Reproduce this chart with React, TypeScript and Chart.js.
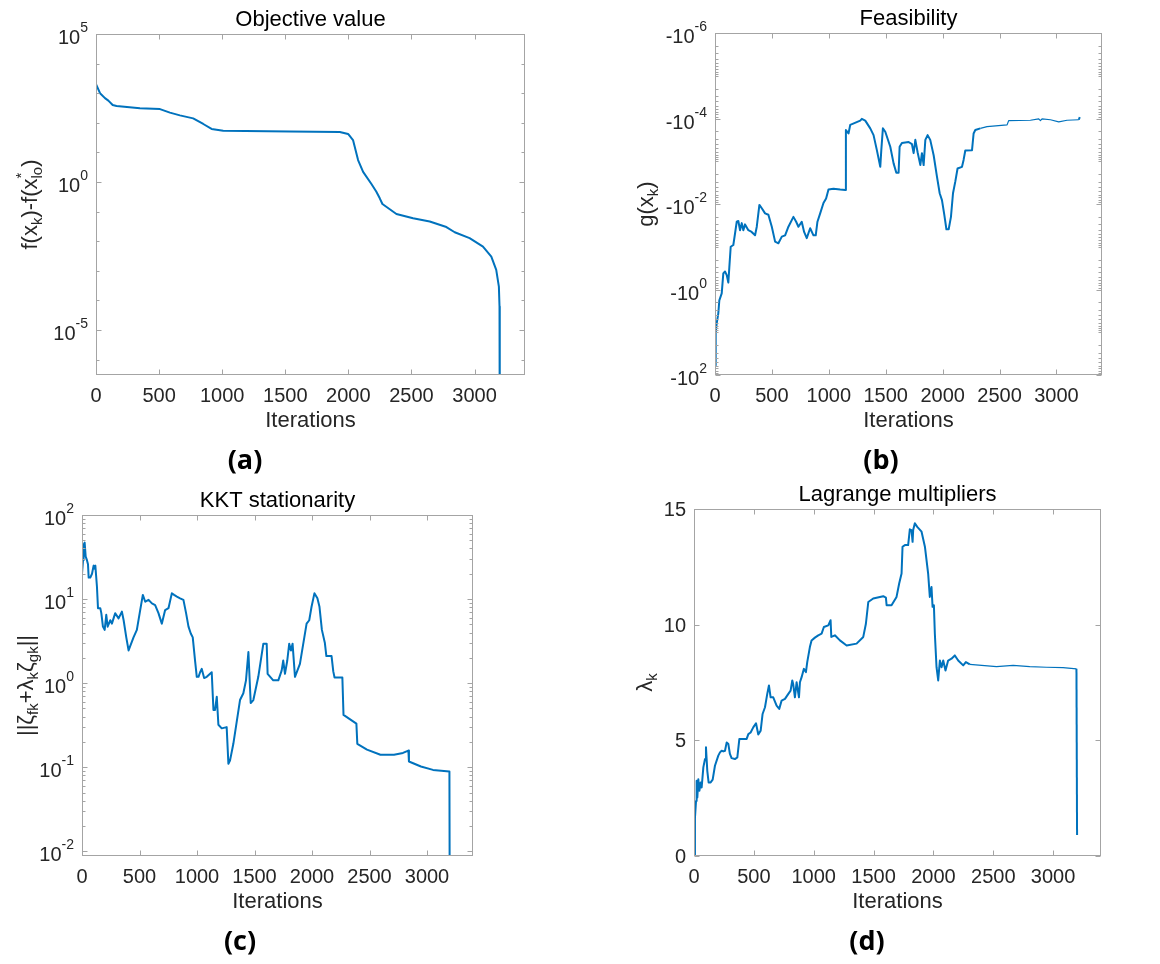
import React, { useEffect, useRef } from "react";
import { Chart, registerables } from "chart.js";

Chart.register(...registerables);

// ---------------- data ----------------
const xTickValues = [0, 500, 1000, 1500, 2000, 2500, 3000];

// (a) objective gap f(x_k) - f(x_lo*)
const aIter = [0, 32, 71, 98, 132, 163, 348, 507, 586, 665, 770, 850, 916, 1008, 1536, 1932, 1998, 2037, 2077, 2117, 2183, 2222, 2249, 2270, 2381, 2513, 2645, 2777, 2843, 2961, 3067, 3133, 3172, 3193, 3198, 3200];
const aValue = [2000, 1000, 680, 560, 400, 370, 310, 290, 220, 178, 141, 91, 62, 54, 51, 49, 42, 26, 5.5, 2.2, 0.85, 0.47, 0.28, 0.18, 0.083, 0.059, 0.046, 0.03, 0.02, 0.0126, 0.0065, 0.003, 0.00107, 0.00029, 0.000062, 1e-9];

// (b) feasibility g(x_k) (negative values)
const bIter = [0, 6, 15, 29, 38, 59, 73, 88, 103, 117, 126, 138, 161, 176, 191, 205, 220, 235, 249, 264, 293, 322, 352, 367, 390, 411, 440, 469, 499, 528, 557, 587, 616, 645, 689, 713, 733, 762, 783, 806, 836, 865, 885, 900, 924, 953, 976, 997, 1041, 1100, 1144, 1150, 1173, 1188, 1276, 1290, 1320, 1364, 1393, 1422, 1452, 1461, 1475, 1496, 1540, 1569, 1593, 1613, 1622, 1642, 1701, 1730, 1745, 1760, 1780, 1804, 1818, 1833, 1848, 1868, 1891, 1921, 1950, 1974, 1994, 2015, 2033, 2053, 2073, 2091, 2111, 2131, 2170, 2184, 2199, 2258, 2272, 2287, 2331, 2390, 2566, 2580, 2771, 2844, 2859, 2873, 2947, 3020, 3093, 3196, 3205];
const bValue = [-59, -10.5, -6.2, -3.6, -1.8, -1.23, -0.42, -0.38, -0.46, -0.69, -0.3, -0.1, -0.091, -0.049, -0.026, -0.025, -0.041, -0.028, -0.041, -0.03, -0.041, -0.045, -0.054, -0.034, -0.0105, -0.0126, -0.0166, -0.0178, -0.034, -0.076, -0.083, -0.058, -0.054, -0.034, -0.02, -0.026, -0.034, -0.026, -0.045, -0.063, -0.037, -0.054, -0.054, -0.026, -0.0166, -0.0095, -0.0074, -0.0046, -0.0044, -0.0046, -0.0047, -0.000186, -0.000224, -0.000141, -0.000112, -0.000102, -0.000112, -0.00017, -0.000245, -0.00055, -0.00135, -0.00055, -0.00017, -0.000204, -0.000457, -0.00112, -0.00186, -0.00186, -0.000457, -0.000372, -0.000355, -0.000398, -0.000646, -0.000316, -0.000617, -0.00123, -0.000646, -0.00123, -0.000316, -0.000245, -0.000316, -0.000724, -0.00229, -0.0056, -0.0081, -0.0182, -0.039, -0.039, -0.02, -0.0056, -0.003, -0.00148, -0.00135, -0.00093, -0.00056, -0.00055, -0.000224, -0.000186, -0.00017, -0.000155, -0.000141, -0.000112, -0.00011, -0.000102, -0.000112, -0.000102, -0.000107, -0.00012, -0.00011, -0.000107, -0.000093];

// (c) KKT stationarity
const cIter = [0, 9, 14, 23, 32, 43, 52, 58, 72, 87, 101, 110, 116, 130, 139, 159, 168, 182, 197, 211, 223, 246, 260, 289, 318, 347, 362, 385, 405, 448, 477, 506, 529, 550, 579, 608, 636, 665, 694, 723, 752, 781, 801, 825, 853, 882, 905, 926, 946, 963, 984, 998, 1013, 1027, 1041, 1062, 1085, 1128, 1143, 1157, 1172, 1186, 1215, 1258, 1273, 1287, 1316, 1374, 1403, 1426, 1447, 1467, 1490, 1533, 1577, 1606, 1614, 1663, 1707, 1736, 1750, 1765, 1785, 1802, 1817, 1831, 1852, 1895, 1953, 1976, 1996, 2021, 2047, 2065, 2086, 2112, 2125, 2170, 2185, 2196, 2264, 2274, 2386, 2394, 2478, 2595, 2713, 2791, 2838, 2843, 2947, 3052, 3195, 3203];
const cValue = [20, 29, 44, 47, 32, 29, 26, 18, 18, 20, 25, 23, 25, 14, 7.8, 7.8, 6.8, 4.7, 4.3, 6.5, 4.7, 5.6, 5.1, 6.8, 5.9, 7.1, 5.6, 3.5, 2.45, 3.5, 4.3, 7.4, 11.2, 9.3, 9.8, 8.9, 8.5, 6.8, 5.1, 7.4, 7.8, 11.7, 11.2, 10.7, 10.2, 9.8, 6.8, 4.7, 3.9, 3.5, 1.8, 1.19, 1.19, 1.35, 1.48, 1.15, 1.19, 1.35, 0.48, 0.48, 0.69, 0.32, 0.29, 0.3, 0.11, 0.12, 0.19, 0.63, 0.76, 1.08, 2.35, 0.58, 0.63, 1.19, 2.95, 2.95, 1.29, 1.08, 1.08, 1.41, 1.86, 1.29, 1.86, 2.95, 2.45, 2.95, 1.19, 1.7, 5.1, 5.6, 8.1, 11.7, 10.2, 8.1, 4.3, 3.0, 2.1, 2.1, 1.38, 1.17, 1.17, 0.42, 0.33, 0.19, 0.162, 0.141, 0.141, 0.148, 0.158, 0.117, 0.102, 0.093, 0.089, 1e-6];

// (d) Lagrange multipliers
const dIter = [0, 8, 17, 22, 28, 36, 45, 56, 64, 78, 92, 100, 111, 122, 139, 156, 175, 203, 217, 231, 245, 259, 273, 287, 300, 314, 342, 362, 379, 440, 454, 473, 495, 518, 537, 557, 573, 593, 612, 626, 640, 662, 690, 712, 732, 760, 788, 807, 821, 829, 843, 857, 877, 885, 899, 918, 935, 946, 968, 982, 1010, 1038, 1066, 1085, 1122, 1141, 1147, 1177, 1219, 1275, 1358, 1414, 1436, 1456, 1497, 1581, 1603, 1609, 1650, 1692, 1714, 1734, 1742, 1762, 1789, 1803, 1817, 1826, 1831, 1845, 1865, 1901, 1929, 1956, 1970, 1984, 1993, 2004, 2012, 2026, 2040, 2054, 2068, 2082, 2101, 2123, 2151, 2179, 2207, 2249, 2271, 2304, 2527, 2666, 2805, 2944, 3083, 3195, 3200];
const dValue = [0, 1.66, 2.38, 3.25, 2.53, 3.32, 2.82, 3.18, 2.96, 3.83, 4.19, 4.7, 3.68, 3.18, 3.18, 3.3, 3.9, 4.34, 4.48, 4.55, 4.52, 4.55, 4.91, 4.84, 4.41, 4.23, 4.19, 4.26, 5.06, 5.06, 5.27, 5.34, 5.56, 5.74, 5.25, 5.42, 6.14, 6.43, 7.01, 7.37, 6.86, 6.86, 6.5, 6.36, 6.72, 6.79, 7.01, 7.15, 7.59, 7.42, 6.86, 7.51, 6.86, 7.51, 7.73, 8.09, 7.95, 8.38, 9.03, 9.32, 9.44, 9.54, 9.61, 9.9, 9.97, 10.19, 9.47, 9.54, 9.32, 9.1, 9.18, 9.47, 10.04, 10.98, 11.13, 11.23, 11.17, 10.84, 10.84, 11.2, 11.78, 12.21, 13.37, 13.44, 13.44, 14.12, 14.09, 13.58, 14.09, 14.38, 14.23, 14.02, 13.37, 12.21, 11.2, 11.63, 10.77, 10.84, 9.61, 8.16, 7.59, 8.45, 8.16, 8.45, 8.02, 8.45, 8.53, 8.67, 8.45, 8.24, 8.38, 8.28, 8.19, 8.24, 8.19, 8.16, 8.14, 8.09, 0.91];

// tick label exponents / values
const aTickExp = [5, 0, -5];
const bTickExp = [-6, -4, -2, 0, 2];
const cTickExp = [2, 1, 0, -1, -2];
const dTickValues = [0, 5, 10, 15];

// ---------------- styling ----------------
const FONT = '"Liberation Sans", Arial, Helvetica, sans-serif';
const CAP_FONT = '"Open Sans", "DejaVu Sans", sans-serif';
const BLUE = "#0072BD";
const AXIS = "#a4a4a4";
const TXT = "#262626";
const W = 580;
const H = 482;

type Part = { t: string; s: number; dy?: number; stack?: boolean };

function layoutParts(ctx: CanvasRenderingContext2D, parts: Part[]) {
  const items: { p: Part; x: number }[] = [];
  let x = 0;
  let pending: { x: number; w: number } | null = null;
  for (const p of parts) {
    ctx.font = `${p.s}px ${FONT}`;
    const w = ctx.measureText(p.t).width;
    if (pending) {
      items.push({ p, x: pending.x });
      x = pending.x + Math.max(pending.w, w);
      pending = null;
    } else if (p.stack) {
      items.push({ p, x });
      pending = { x, w };
    } else {
      items.push({ p, x });
      x += w;
    }
  }
  return { items, width: x };
}

function drawParts(ctx: CanvasRenderingContext2D, parts: Part[], x0: number, y0: number, align: "left" | "center" | "right") {
  const { items, width } = layoutParts(ctx, parts);
  const start = align === "left" ? x0 : align === "center" ? x0 - width / 2 : x0 - width;
  ctx.textAlign = "left";
  ctx.textBaseline = "alphabetic";
  for (const it of items) {
    ctx.font = `${it.p.s}px ${FONT}`;
    ctx.fillText(it.p.t, start + it.x, y0 + (it.p.dy || 0));
  }
}

type Spec = {
  left: number;
  top: number;
  pad: { left: number; top: number; right: number; bottom: number };
  iter: number[];
  values: number[];
  toY: (v: number) => number;
  yScale: any;
  title: string;
  yParts: Part[];
  yLabelX: number;
  caption: string;
  capX: number;
  capY: number;
  yTicks: { v: number; parts: Part[] }[];
  yMinor: number[];
  thin: boolean;
};

function supLabel(base: string, exp: number): Part[] {
  return [
    { t: base, s: 20 },
    { t: String(exp), s: 14, dy: -12 },
  ];
}

function logMinor(lo: number, hi: number, majors: number[], everyDecadeOnly: boolean) {
  const out: number[] = [];
  for (let e = lo; e <= hi; e++) {
    const ms = everyDecadeOnly ? [1] : [1, 2, 3, 4, 5, 6, 7, 8, 9];
    for (const m of ms) {
      if (m === 1 && majors.includes(e)) continue;
      out.push(m * Math.pow(10, e));
    }
  }
  return out;
}

function makeAxesPlugin(spec: Spec) {
  return {
    id: "matlabAxes",
    afterDatasetsDraw(chart: any) {
      const { ctx, chartArea: ca, scales } = chart;
      const xs = scales.x;
      const ys = scales.y;
      ctx.save();
      const L = Math.round(ca.left) + 0.5;
      const R = Math.round(ca.right) - 0.5;
      const T = Math.round(ca.top) + 0.5;
      const B = Math.round(ca.bottom) - 0.5;
      ctx.strokeStyle = AXIS;
      ctx.lineWidth = 1;
      ctx.strokeRect(L, T, R - L, B - T);
      ctx.beginPath();
      for (const v of xTickValues) {
        const px = Math.round(xs.getPixelForValue(v)) + 0.5;
        ctx.moveTo(px, B);
        ctx.lineTo(px, B - 5);
        ctx.moveTo(px, T);
        ctx.lineTo(px, T + 5);
      }
      const inRange = (py: number) => py >= ca.top - 0.5 && py <= ca.bottom + 0.5;
      for (const t of spec.yTicks) {
        const py = Math.round(ys.getPixelForValue(t.v)) + 0.5;
        if (!inRange(py)) continue;
        ctx.moveTo(L, py);
        ctx.lineTo(L + 5, py);
        ctx.moveTo(R, py);
        ctx.lineTo(R - 5, py);
      }
      for (const v of spec.yMinor) {
        const py = Math.round(ys.getPixelForValue(v)) + 0.5;
        if (!inRange(py)) continue;
        ctx.moveTo(L, py);
        ctx.lineTo(L + 3, py);
        ctx.moveTo(R, py);
        ctx.lineTo(R - 3, py);
      }
      ctx.stroke();

      // x tick labels
      ctx.fillStyle = TXT;
      ctx.font = `20px ${FONT}`;
      ctx.textAlign = "center";
      ctx.textBaseline = "alphabetic";
      for (const v of xTickValues) {
        ctx.fillText(String(v), xs.getPixelForValue(v), ca.bottom + 27);
      }
      // y tick labels
      for (const t of spec.yTicks) {
        const py = ys.getPixelForValue(t.v);
        const off = t.parts.length > 1 ? 10 : 7;
        drawParts(ctx, t.parts, ca.left - 8, py + off, "right");
      }
      // x label
      ctx.font = `22px ${FONT}`;
      ctx.textAlign = "center";
      ctx.fillText("Iterations", (ca.left + ca.right) / 2, ca.bottom + 52);
      // title
      ctx.fillStyle = "#000";
      ctx.fillText(spec.title, (ca.left + ca.right) / 2, ca.top - 8);
      // y label (rotated)
      ctx.fillStyle = TXT;
      ctx.save();
      ctx.translate(spec.yLabelX, (ca.top + ca.bottom) / 2);
      ctx.rotate(-Math.PI / 2);
      drawParts(ctx, spec.yParts, 0, 0, "center");
      ctx.restore();
      // caption
      ctx.fillStyle = "#000";
      ctx.font = `bold 27px ${CAP_FONT}`;
      ctx.textAlign = "center";
      ctx.fillText(spec.caption, spec.capX, spec.capY);
      ctx.restore();
    },
  };
}

const SUB = 15;
const specs: Spec[] = [
  {
    left: 0,
    top: 0,
    pad: { left: 96, top: 34, right: W - 525, bottom: H - 375 },
    iter: aIter,
    values: aValue,
    toY: (v) => v,
    yScale: { type: "logarithmic", min: 3e-7, max: 1e5 },
    title: "Objective value",
    yParts: [
      { t: "f(x", s: 22 },
      { t: "k", s: SUB, dy: 5 },
      { t: ")-f(x", s: 22 },
      { t: "lo", s: SUB, dy: 5, stack: true },
      { t: "*", s: SUB, dy: -11 },
      { t: ")", s: 22 },
    ],
    yLabelX: 37,
    caption: "(a)",
    capX: 245,
    capY: 469,
    yTicks: aTickExp.map((e) => ({ v: Math.pow(10, e), parts: supLabel("10", e) })),
    yMinor: logMinor(-7, 5, aTickExp, true),
    thin: false,
  },
  {
    left: 580,
    top: 0,
    pad: { left: 135, top: 33, right: W - 522, bottom: H - 375 },
    iter: bIter,
    values: bValue,
    toY: (v) => -v,
    yScale: { type: "logarithmic", min: 1e-6, max: 1e2, reverse: true },
    title: "Feasibility",
    yParts: [
      { t: "g(x", s: 22 },
      { t: "k", s: SUB, dy: 5 },
      { t: ")", s: 22 },
    ],
    yLabelX: 73,
    caption: "(b)",
    capX: 301,
    capY: 469,
    yTicks: bTickExp.map((e) => ({ v: Math.pow(10, e), parts: supLabel("-10", e) })),
    yMinor: logMinor(-6, 1, bTickExp, false),
    thin: true,
  },
  {
    left: 0,
    top: 482,
    pad: { left: 82, top: 33, right: W - 473, bottom: H - 374 },
    iter: cIter,
    values: cValue,
    toY: (v) => v,
    yScale: { type: "logarithmic", min: 0.0088, max: 100 },
    title: "KKT stationarity",
    yParts: [
      { t: "||ζ", s: 22 },
      { t: "fk", s: SUB, dy: 5 },
      { t: "+λ", s: 22 },
      { t: "k", s: SUB, dy: 5 },
      { t: "ζ", s: 22 },
      { t: "gk", s: SUB, dy: 5 },
      { t: "||", s: 22 },
    ],
    yLabelX: 33,
    caption: "(c)",
    capX: 240,
    capY: 468,
    yTicks: cTickExp.map((e) => ({ v: Math.pow(10, e), parts: supLabel("10", e) })),
    yMinor: logMinor(-3, 1, cTickExp, false),
    thin: false,
  },
  {
    left: 580,
    top: 482,
    pad: { left: 114, top: 27, right: W - 521, bottom: H - 374 },
    iter: dIter,
    values: dValue,
    toY: (v) => v,
    yScale: { type: "linear", min: 0, max: 15 },
    title: "Lagrange multipliers",
    yParts: [
      { t: "λ", s: 22 },
      { t: "k", s: SUB, dy: 5 },
    ],
    yLabelX: 72,
    caption: "(d)",
    capX: 287,
    capY: 468,
    yTicks: dTickValues.map((v) => ({ v, parts: [{ t: String(v), s: 20 }] })),
    yMinor: [],
    thin: true,
  },
];

function Panel({ spec }: { spec: Spec }) {
  const ref = useRef<HTMLCanvasElement | null>(null);
  useEffect(() => {
    if (!ref.current) return;
    const points = spec.iter.map((x, i) => ({ x, y: spec.toY(spec.values[i]) }));
    const chart = new Chart(ref.current, {
      type: "line",
      data: {
        datasets: [
          {
            data: points,
            borderColor: BLUE,
            borderWidth: 2,
            pointRadius: 0,
            tension: 0,
            fill: false,
            borderJoinStyle: "round",
            segment: {
              borderWidth: (c: any) => {
                if (!spec.thin) return 2;
                const x0 = c.p0.parsed.x;
                return x0 >= 2290 && x0 < 3190 ? 1.2 : 2;
              },
            },
          } as any,
        ],
      },
      options: {
        responsive: false,
        animation: false,
        devicePixelRatio: 1,
        events: [],
        layout: { padding: spec.pad },
        plugins: {
          legend: { display: false },
          tooltip: { enabled: false },
          title: { display: false },
        },
        scales: {
          x: { type: "linear", min: 0, max: 3400, display: false },
          y: { ...spec.yScale, display: false },
        },
      } as any,
      plugins: [makeAxesPlugin(spec) as any],
    });
    return () => chart.destroy();
  }, [spec]);
  return (
    <canvas
      ref={ref}
      width={W}
      height={H}
      style={{ position: "absolute", left: spec.left, top: spec.top, width: W, height: H }}
    />
  );
}

export default function App() {
  return (
    <div style={{ position: "absolute", left: 0, top: 0, width: 1160, height: 964, background: "#fff", overflow: "hidden" }}>
      {specs.map((s, i) => (
        <Panel key={i} spec={s} />
      ))}
    </div>
  );
}
